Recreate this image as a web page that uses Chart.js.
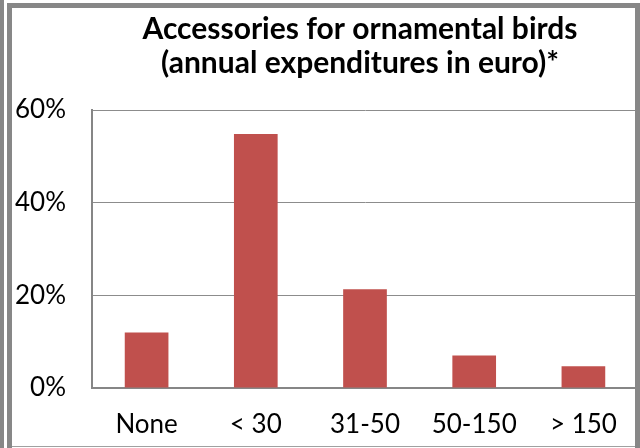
<!DOCTYPE html>
<html>
<head>
<meta charset="utf-8">
<script src="https://cdn.jsdelivr.net/npm/chart.js@4/dist/chart.umd.min.js"></script>
<style>
  html, body { margin: 0; padding: 0; background: #fff; }
  #wrap { position: relative; width: 640px; height: 448px; overflow: hidden; }
  #chart { position: absolute; left: 0; top: 0; }
  .edge { position: absolute; background: #878787; }
</style>
</head>
<body>
<div id="wrap">
  <canvas id="chart" width="640" height="448"></canvas>
  <div class="edge" style="left:0;top:0;width:4px;height:448px;"></div>
  <div class="edge" style="left:7px;top:3px;width:5px;height:445px;"></div>
  <div class="edge" style="left:7px;top:3px;width:633px;height:5px;"></div>
  <div class="edge" style="left:635px;top:3px;width:5px;height:445px;"></div>
  <div class="edge" style="left:12px;top:446px;width:623px;height:1px;background:#a0a0a0;"></div>
</div>
<script>
// Annual spending on accessories for ornamental birds, share of owners (%)
const categories = ['None', '< 30', '31-50', '50-150', '> 150'];
const shares = [12.0, 54.8, 21.3, 7.0, 4.7];
const yTicks = [0, 20, 40, 60];
const titleLines = ['Accessories for ornamental birds', '(annual expenditures in euro)*'];

const FONT = 'Lato, "Open Sans", sans-serif';

// Two-line bold heading centred over the plotting area
const headingPlugin = {
  id: 'heading',
  afterDraw(chart) {
    const { ctx, chartArea } = chart;
    ctx.save();
    ctx.fillStyle = '#000';
    ctx.font = 'bold 30px ' + FONT;
    ctx.textAlign = 'center';
    ctx.textBaseline = 'alphabetic';
    const cx = (chartArea.left + chartArea.right) / 2 - 5;
    ctx.fillText(titleLines[0], cx, 39);
    ctx.fillText(titleLines[1], cx, 73);
    ctx.restore();
  }
};

new Chart(document.getElementById('chart'), {
  type: 'bar',
  data: {
    labels: categories,
    datasets: [{
      data: shares,
      backgroundColor: '#C0504D',
      borderWidth: 0,
      categoryPercentage: 1.0,
      barPercentage: 0.4
    }]
  },
  options: {
    responsive: false,
    animation: false,
    layout: { padding: { top: 110, right: 2, left: 0, bottom: 0 } },
    plugins: {
      legend: { display: false },
      title: { display: false },
      tooltip: { enabled: false }
    },
    scales: {
      x: {
        grid: { display: false, drawTicks: false },
        border: { display: true, color: '#868686', width: 2 },
        ticks: {
          color: '#000',
          font: { family: FONT, size: 26 },
          padding: 21,
          maxRotation: 0,
          autoSkip: false
        },
        afterFit(scale) { scale.height = 60; }
      },
      y: {
        min: 0,
        max: 60,
        afterBuildTicks(scale) { scale.ticks = yTicks.map(v => ({ value: v })); },
        grid: { color: '#8c8c8c', lineWidth: 1, drawTicks: false },
        border: { display: true, color: '#868686', width: 2 },
        ticks: {
          color: '#000',
          font: { family: FONT, size: 26 },
          padding: 26,
          callback: v => v + '%'
        },
        afterFit(scale) { scale.width = 92; }
      }
    }
  },
  plugins: [headingPlugin]
});
</script>
</body>
</html>
